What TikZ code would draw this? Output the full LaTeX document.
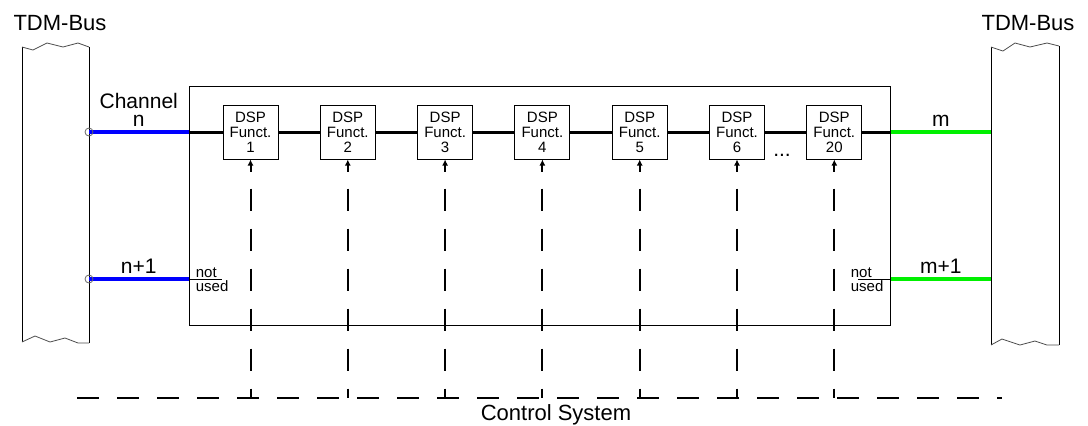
\documentclass[tikz,border=0pt]{standalone}
\usepackage{fontspec}
\setmainfont{Liberation Sans}
\usetikzlibrary{arrows.meta,positioning,calc}
\definecolor{chblue}{RGB}{0,0,255}
\definecolor{chgreen}{RGB}{0,240,0}
\tikzset{
  dspbox/.style={draw, line width=0.5pt, minimum width=27.5pt, minimum height=27pt,
                 inner sep=0pt, align=center, font=\fontsize{7.5}{7.5}\selectfont},
  unitbox/.style={draw, line width=0.5pt, minimum width=350.5pt, minimum height=119.5pt,
                  inner sep=0pt},
  title/.style={font=\fontsize{11}{11}\selectfont, inner sep=0pt},
  lbl/.style={font=\fontsize{10.5}{9.2}\selectfont, inner sep=0pt, align=center},
  unused/.style={font=\fontsize{7.5}{7}\selectfont, inner sep=0pt, align=left},
  chanline/.style={line width=1.5pt},
  chanin/.style={line width=2pt, draw=chblue},
  chanout/.style={line width=2pt, draw=chgreen},
  ctrl/.style={line width=1pt, dash pattern=on 11pt off 9pt},
  ctrlarrow/.style={-{Latex[length=3pt,width=3pt]}, line width=1pt},
  busedge/.style={line width=0.5pt},
  wave/.style={line width=0.4pt, draw=black!70},
  tap/.style={draw=black!60, circle, inner sep=0pt, minimum size=4pt, line width=0.4pt},
}
\begin{document}
\begin{tikzpicture}[x=0.5pt, y=-0.5pt]
\useasboundingbox (0,0) rectangle (1088,425);

% ============================ TDM buses ===============================
\draw[busedge] (22,47) -- (22,342);
\draw[busedge] (89,47) -- (89,343);
\draw[wave] (22,47) -- (33,50) -- (47,43) -- (63,47) -- (78,43) -- (89,47);
\draw[wave] (22,342) -- (35,336) -- (50,342) -- (65,338) -- (78,343) -- (89,343);
\node[title] (tdmL) at (60,23) {TDM-Bus};

\draw[busedge] (991,47) -- (991,345);
\draw[busedge] (1059,46) -- (1059,345);
\draw[wave] (991,47) -- (1003,51) -- (1015,43) -- (1030,47) -- (1047,43) -- (1059,46);
\draw[wave] (991,345) -- (1002,339) -- (1020,345) -- (1035,341) -- (1047,345) -- (1059,345);
\node[title] (tdmR) at (1028,23) {TDM-Bus};

\coordinate (busN)  at (89,132);
\coordinate (busN1) at (89,279);
\coordinate (busM)  at (991,132);
\coordinate (busM1) at (991,279);

% ============================ DSP unit ================================
\node[unitbox] (unit) at (539.5,205.5) {};

\node[dspbox] (dsp1) at (250.5,132) {DSP\\Funct.\\1};
\foreach \k [remember=\k as \j (initially 1)] in {2,...,6}
  \node[dspbox, right=20.65pt of dsp\j] (dsp\k) {DSP\\Funct.\\\k};
\node[dspbox, right=20.65pt of dsp6] (dsp7) {DSP\\Funct.\\20};
\node[lbl] (dots) at (782,155) {...};

% channel path through the functions
\draw[chanin] (busN) -- (unit.west |- busN);
\draw[chanline] (unit.west |- busN) -- (dsp1);
\foreach \k [remember=\k as \j (initially 1)] in {2,...,7}
  \draw[chanline] (dsp\j) -- (dsp\k);
\draw[chanline] (dsp7) -- (unit.east |- busM);
\draw[chanout] (unit.east |- busM) -- (busM);
\node[tap] at (busN) {};
\node[lbl, above=2.5pt] at ($(busN)!0.5!(unit.west |- busN)$) {Channel\\n};
\node[lbl, above=2.5pt] at ($(busM)!0.5!(unit.east |- busM)$) {m};

% second channel, not used inside the unit
\draw[chanin] (busN1) -- (unit.west |- busN1);
\draw[chanout] (unit.east |- busM1) -- (busM1);
\node[tap] at (busN1) {};
\coordinate (nuL) at ($(unit.west |- busN1)+(33,0)$);
\coordinate (nuR) at ($(unit.east |- busM1)+(-33,0)$);
\draw[busedge] (unit.west |- busN1) -- (nuL);
\draw[busedge] (unit.east |- busM1) -- (nuR);
\node[unused, anchor=west] at ($(unit.west |- busN1)+(7,1)$) {not\\used};
\node[unused, anchor=west] at ($(unit.east |- busM1)+(-40,1)$) {not\\used};
\node[lbl, above=2.5pt] at ($(busN1)!0.5!(unit.west |- busN1)$) {n+1};
\node[lbl, above=2.5pt] at ($(busM1)!0.5!(unit.east |- busM1)$) {m+1};

% ============================ control system ==========================
\coordinate (ctrlW) at (77,398);
\coordinate (ctrlE) at (1002,398);
\draw[ctrl] (ctrlW) -- (ctrlE);
\foreach \k in {1,...,7} {
  \draw[ctrlarrow] ($(dsp\k.south)+(0,12)$) -- (dsp\k.south);
  \draw[ctrl] ($(dsp\k.south)+(0,29)$) -- (dsp\k.south |- ctrlW);
}
\node[title] (ctrlsys) at (556,415) {Control System};

\end{tikzpicture}
\end{document}
